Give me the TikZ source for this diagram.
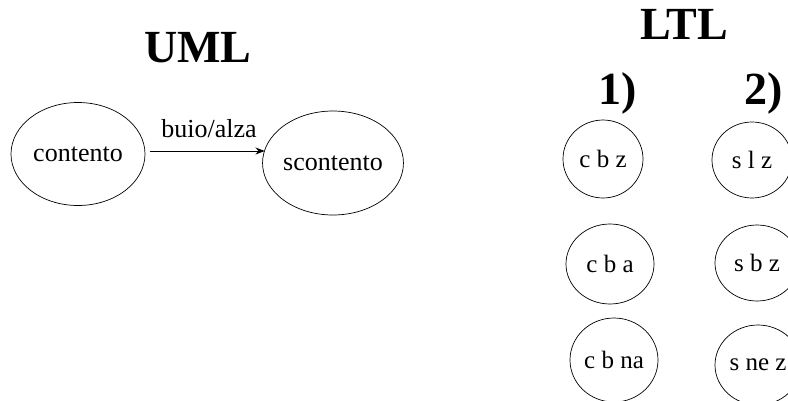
\documentclass[tikz,border=0pt]{standalone}
\usepackage{fontspec}
\setmainfont{Liberation Serif}
\usetikzlibrary{shapes.geometric,arrows.meta}
\begin{document}
\begin{tikzpicture}[x=1pt,y=-1pt,
  title/.style={font=\fontsize{46}{50}\selectfont\bfseries, inner sep=0pt},
  num/.style={font=\fontsize{46}{50}\selectfont\bfseries, inner sep=0pt},
  bigstate/.style={draw, ellipse, line width=0.7pt, inner sep=0pt, font=\fontsize{26}{28}\selectfont},
  ltlstate/.style={draw, ellipse, line width=0.7pt, inner sep=0pt, font=\fontsize{25}{28}\selectfont},
  lbl/.style={font=\fontsize{26}{28}\selectfont, inner sep=0pt},
  arr/.style={-{Stealth[length=9pt,width=7pt]}, line width=0.7pt}]
\useasboundingbox (0,0) rectangle (788,400);
\node[title] (uml) at (198,48) {UML};
\node[title] (ltl) at (684,24) {LTL};
\node[num] (n1) at (618,93) {1)};
\node[num] (n2) at (764,93) {2)};

\node[bigstate, minimum width=134pt, minimum height=103pt] (con) at (78,154) {contento};
\node[bigstate, minimum width=132pt, minimum height=104pt] (scon) at (333,163) {scontento};
\node[lbl] (ev) at (209,129) {buio/alza};
\draw[arr] (con.east) ++(5,-3) coordinate (a0) -- (a0 -| scon.169);

\node[ltlstate, minimum width=80pt, minimum height=78pt] (cbz) at (603,159) {c b z};
\node[ltlstate, minimum width=88pt, minimum height=80pt] (cba) at (610,264) {c b a};
\node[ltlstate, minimum width=88pt, minimum height=84pt] (cbna) at (614,360) {c b na};
\node[ltlstate, minimum width=80pt, minimum height=76pt] (slz) at (752,160) {s l z};
\node[ltlstate, minimum width=84pt, minimum height=76pt] (sbz) at (757,263) {s b z};
\node[ltlstate, minimum width=86pt, minimum height=80pt] (snez) at (758,365) {s ne z};
\end{tikzpicture}
\end{document}
